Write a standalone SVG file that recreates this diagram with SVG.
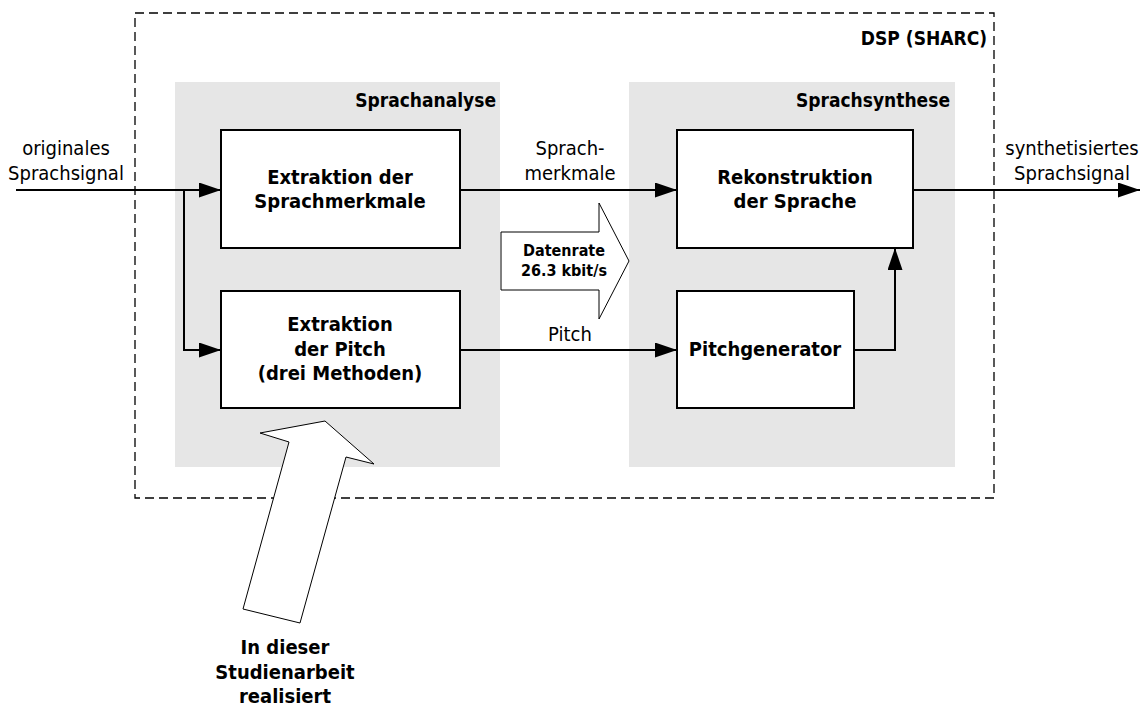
<svg xmlns="http://www.w3.org/2000/svg" width="1147" height="708" viewBox="0 0 1147 708">
<style>
text{font-family:"DejaVu Sans Condensed","DejaVu Sans",sans-serif;font-stretch:condensed;fill:#000}
.n{font-size:20px}
.b{font-size:20px;font-weight:bold}
.t{font-size:19px;font-weight:bold}
.s{font-size:16px;font-weight:bold}
.box{fill:#fff;stroke:#000;stroke-width:2}
.panel{fill:#e6e6e6;stroke:none}
.ln{fill:none;stroke:#000;stroke-width:2}
.hollow{fill:#fff;stroke:#000;stroke-width:1}
</style>
<defs>
<marker id="ah" markerWidth="22" markerHeight="15" refX="22" refY="7.5" orient="auto" markerUnits="userSpaceOnUse">
<path d="M0,0 L22,7.5 L0,15 Z" fill="#000"/>
</marker>
</defs>
<g id="dsp">
<rect x="135" y="13" width="859" height="485" fill="none" stroke="#000" stroke-width="1.3" stroke-dasharray="9,5"/>
<text class="t" x="987" y="45" text-anchor="end">DSP (SHARC)</text>
</g>
<g id="sprachanalyse">
<rect class="panel" x="175" y="82" width="325" height="385"/>
<text class="t" x="496" y="107" text-anchor="end">Sprachanalyse</text>
</g>
<g id="sprachsynthese">
<rect class="panel" x="629" y="82" width="326" height="385"/>
<text class="t" x="950" y="107" text-anchor="end">Sprachsynthese</text>
</g>
<g id="datenrate">
<path class="hollow" d="M501,232 L599,232 L599,203 L629,261 L599,319 L599,290 L501,290 Z"/>
<text class="s" x="564" y="256" text-anchor="middle">Datenrate</text>
<text class="s" x="564" y="276" text-anchor="middle">26.3 kbit/s</text>
</g>
<g id="extraktion-merkmale">
<rect class="box" x="221" y="130" width="239" height="118"/>
<text class="b" x="340" y="184" text-anchor="middle">Extraktion der</text>
<text class="b" x="340" y="208" text-anchor="middle">Sprachmerkmale</text>
</g>
<g id="extraktion-pitch">
<rect class="box" x="221" y="291" width="239" height="117" stroke-width="3.5"/>
<text class="b" x="340" y="331" text-anchor="middle">Extraktion</text>
<text class="b" x="340" y="356" text-anchor="middle">der Pitch</text>
<text class="b" x="340" y="380" text-anchor="middle">(drei Methoden)</text>
</g>
<g id="rekonstruktion">
<rect class="box" x="677" y="130" width="236" height="118"/>
<text class="b" x="795" y="184" text-anchor="middle">Rekonstruktion</text>
<text class="b" x="795" y="208" text-anchor="middle">der Sprache</text>
</g>
<g id="pitchgenerator">
<rect class="box" x="677" y="291" width="177" height="117"/>
<text class="b" x="765" y="356" text-anchor="middle">Pitchgenerator</text>
</g>
<g id="connectors">
<path class="ln" d="M16,190 L221,190" marker-end="url(#ah)"/>
<path class="ln" d="M184,190 L184,350 L221,350" marker-end="url(#ah)"/>
<path class="ln" d="M460,190 L677,190" marker-end="url(#ah)"/>
<path class="ln" d="M460,350 L677,350" marker-end="url(#ah)"/>
<path class="ln" d="M854,350 L895,350 L895,248" marker-end="url(#ah)"/>
<path class="ln" d="M913,190 L1140,190" marker-end="url(#ah)"/>
</g>
<g id="labels">
<text class="n" x="66" y="155" text-anchor="middle">originales</text>
<text class="n" x="66" y="180" text-anchor="middle">Sprachsignal</text>
<text class="n" x="1072" y="155" text-anchor="middle">synthetisiertes</text>
<text class="n" x="1072" y="180" text-anchor="middle">Sprachsignal</text>
<text class="n" x="570" y="155" text-anchor="middle">Sprach-</text>
<text class="n" x="570" y="180" text-anchor="middle">merkmale</text>
<text class="n" x="570" y="341" text-anchor="middle">Pitch</text>
</g>
<g id="studienarbeit">
<path class="hollow" d="M260,433 L325,421 L374,464 L346,457 L300,623 L243,609 L289,442 Z"/>
<text class="b" x="285" y="654" text-anchor="middle">In dieser</text>
<text class="b" x="285" y="679" text-anchor="middle">Studienarbeit</text>
<text class="b" x="285" y="703" text-anchor="middle">realisiert</text>
</g>
</svg>
